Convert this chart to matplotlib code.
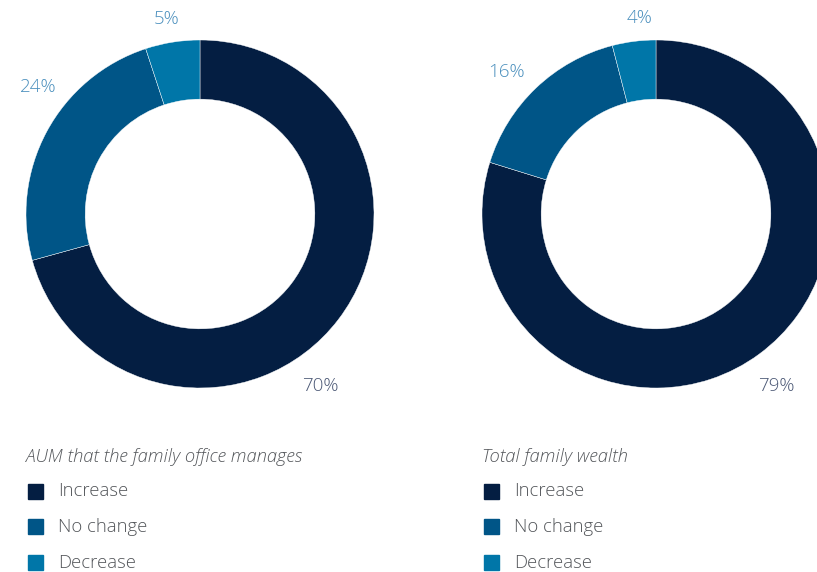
import matplotlib
matplotlib.use("Agg")
import matplotlib.pyplot as plt
from matplotlib.patches import Rectangle

plt.rcParams['font.family'] = ['Open Sans', 'DejaVu Sans']

categories = ["Increase", "No change", "Decrease"]
aum_values = [70, 24, 5]
wealth_values = [79, 16, 4]
titles = ["AUM that the family office manages", "Total family wealth"]

colors = ["#041e42", "#005587", "#0076a8"]
label_colors = ["#4b5875", "#4a8fbd", "#4a8fbd"]
text_grey = "#53565a"

W, H = 817, 572
fig = plt.figure(figsize=(W / 100, H / 100), dpi=100)


def px(x, y):
    return x / W, 1 - y / H


def donut(left_px, values, label_pos, title, legend_x):
    ax = fig.add_axes([left_px / W, (H - 388) / H, 348 / W, 348 / H])
    ax.pie(values, colors=colors, startangle=90, counterclock=False,
           wedgeprops=dict(width=0.34, edgecolor="white", linewidth=0.3))
    ax.set_aspect("equal")
    ax.set_xlim(-1, 1)
    ax.set_ylim(-1, 1)
    ax.axis("off")

    for v, (x, y), c in zip(values, label_pos, label_colors):
        fig.text(*px(x, y), f"{v}%", ha="center", va="center",
                 fontsize=13.5, color=c, fontweight="light")

    fig.text(*px(legend_x, 457), title, ha="left", va="center", fontsize=13.2,
             style="italic", color=text_grey, fontweight="light")
    for i, cat in enumerate(categories):
        y = 491 + 35.8 * i
        fig.patches.append(Rectangle(px(legend_x + 2, y + 7.5), 15 / W, 15 / H,
                                     transform=fig.transFigure, color=colors[i]))
        fig.text(*px(legend_x + 32, y), cat, ha="left", va="center",
                 fontsize=13.3, color=text_grey, fontweight="light")


donut(26, aum_values, [(320, 386), (38, 87), (167, 19)], titles[0], 26)
donut(482, wealth_values, [(776, 386), (506, 72), (640, 18)], titles[1], 482)

fig.savefig("out.png", dpi=100, facecolor="white")
